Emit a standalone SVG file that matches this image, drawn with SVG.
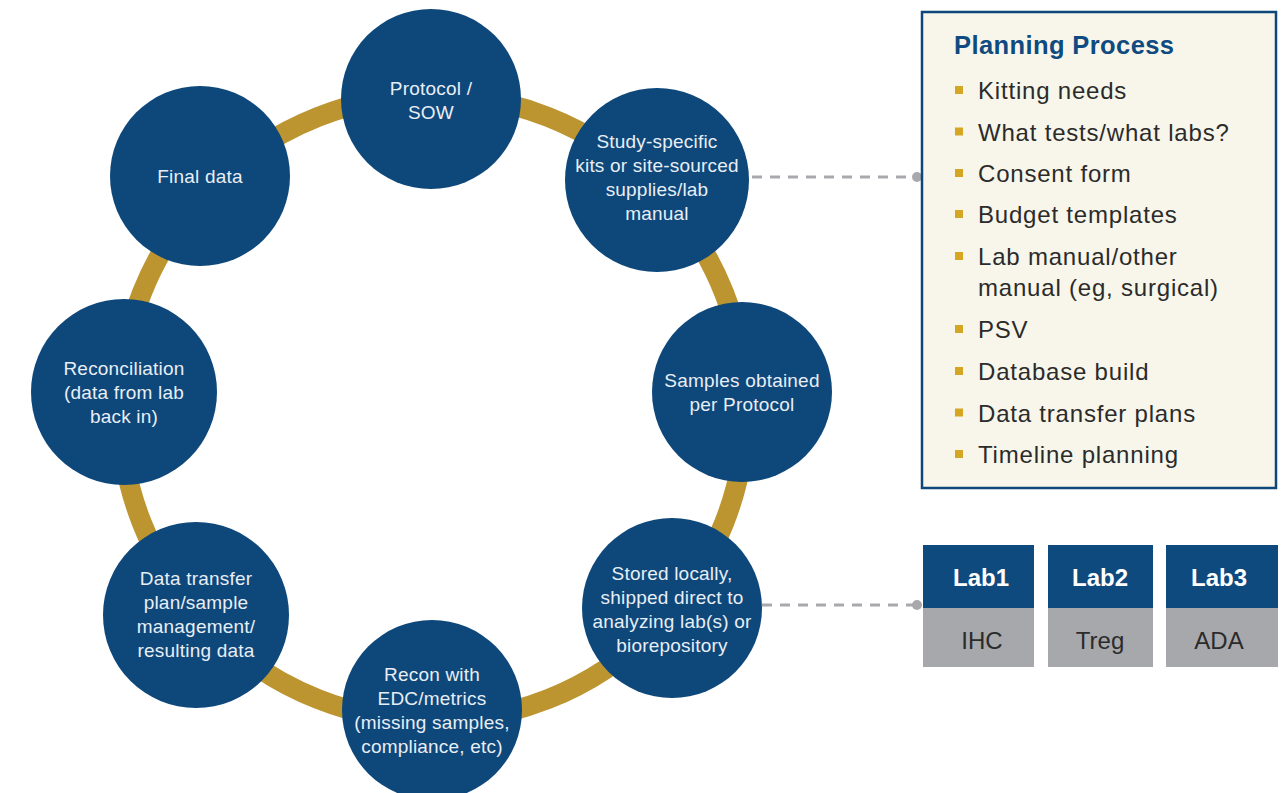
<svg xmlns="http://www.w3.org/2000/svg" width="1284" height="793" viewBox="0 0 1284 793">
<style>
.node{fill:#0E477A}
.nt{font-family:"Liberation Sans",Arial,sans-serif;font-size:19px;fill:#E8EEF5;text-anchor:middle;letter-spacing:0.2px}
.ring{fill:none;stroke:#BC9530;stroke-width:20}
.conn{stroke:#A9A9AD;stroke-width:3;stroke-dasharray:10 8;fill:none}
.dot{fill:#A9A9AD}
.bt{font-family:"Liberation Sans",Arial,sans-serif;font-size:24px;fill:#2B2B2B;letter-spacing:0.8px}
.bul{fill:#D4A621}
.lab{font-family:"Liberation Sans",Arial,sans-serif;font-size:24px;font-weight:bold;fill:#FFFFFF;text-anchor:middle}
.labv{font-family:"Liberation Sans",Arial,sans-serif;font-size:24px;fill:#2B2B2B;text-anchor:middle}
</style>
<rect width="1284" height="793" fill="#FFFFFF"/>
<circle class="ring" cx="433" cy="408" r="313"/>
<g id="connectors">
<line class="conn" x1="752" y1="177" x2="915" y2="177"/>
<circle class="dot" cx="917" cy="177" r="5"/>
<line class="conn" x1="762" y1="605" x2="915" y2="605"/>
<circle class="dot" cx="917" cy="605" r="5"/>
</g>
<g id="n-protocol">
<circle class="node" cx="431" cy="99" r="90"/>
<text class="nt" x="431" y="95">Protocol /</text>
<text class="nt" x="431" y="119">SOW</text>
</g>
<g id="n-study">
<circle class="node" cx="657" cy="180" r="92"/>
<text class="nt" x="657" y="148">Study-specific</text>
<text class="nt" x="657" y="172">kits or site-sourced</text>
<text class="nt" x="657" y="196">supplies/lab</text>
<text class="nt" x="657" y="220">manual</text>
</g>
<g id="n-samples">
<circle class="node" cx="742" cy="392" r="90"/>
<text class="nt" x="742" y="387">Samples obtained</text>
<text class="nt" x="742" y="411">per Protocol</text>
</g>
<g id="n-stored">
<circle class="node" cx="672" cy="608" r="90"/>
<text class="nt" x="672" y="580">Stored locally,</text>
<text class="nt" x="672" y="604">shipped direct to</text>
<text class="nt" x="672" y="628">analyzing lab(s) or</text>
<text class="nt" x="672" y="652">biorepository</text>
</g>
<g id="n-recon-edc">
<circle class="node" cx="432" cy="710" r="90"/>
<text class="nt" x="432" y="681">Recon with</text>
<text class="nt" x="432" y="705">EDC/metrics</text>
<text class="nt" x="432" y="729">(missing samples,</text>
<text class="nt" x="432" y="753">compliance, etc)</text>
</g>
<g id="n-datatransfer">
<circle class="node" cx="196" cy="615" r="93"/>
<text class="nt" x="196" y="585">Data transfer</text>
<text class="nt" x="196" y="609">plan/sample</text>
<text class="nt" x="196" y="633">management/</text>
<text class="nt" x="196" y="657">resulting data</text>
</g>
<g id="n-reconciliation">
<circle class="node" cx="124" cy="392" r="93"/>
<text class="nt" x="124" y="375">Reconciliation</text>
<text class="nt" x="124" y="399">(data from lab</text>
<text class="nt" x="124" y="423">back in)</text>
</g>
<g id="n-final">
<circle class="node" cx="200" cy="176" r="90"/>
<text class="nt" x="200" y="183">Final data</text>
</g>
<g id="planning">
<rect x="922" y="12" width="354" height="476" fill="#F8F6EA" stroke="#0E477A" stroke-width="2.5"/>
<text x="954" y="54" font-family="'Liberation Sans',Arial,sans-serif" font-size="25.5" font-weight="bold" fill="#0F4A80" letter-spacing="0.4">Planning Process</text>
<rect class="bul" x="955" y="86" width="8" height="8"/>
<text class="bt" x="978" y="99">Kitting needs</text>
<rect class="bul" x="955" y="127.5" width="8" height="8"/>
<text class="bt" x="978" y="140.5">What tests/what labs?</text>
<rect class="bul" x="955" y="169" width="8" height="8"/>
<text class="bt" x="978" y="182">Consent form</text>
<rect class="bul" x="955" y="210" width="8" height="8"/>
<text class="bt" x="978" y="223">Budget templates</text>
<rect class="bul" x="955" y="252" width="8" height="8"/>
<text class="bt" x="978" y="265">Lab manual/other</text>
<text class="bt" x="978" y="296">manual (eg, surgical)</text>
<rect class="bul" x="955" y="325" width="8" height="8"/>
<text class="bt" x="978" y="338">PSV</text>
<rect class="bul" x="955" y="367" width="8" height="8"/>
<text class="bt" x="978" y="380">Database build</text>
<rect class="bul" x="955" y="408.5" width="8" height="8"/>
<text class="bt" x="978" y="421.5">Data transfer plans</text>
<rect class="bul" x="955" y="450" width="8" height="8"/>
<text class="bt" x="978" y="463">Timeline planning</text>
</g>
<g id="lab1">
<rect x="923" y="545" width="111" height="63" fill="#0F4A7F"/>
<rect x="923" y="608" width="111" height="59" fill="#A7A8AB"/>
<text class="lab" x="981" y="586">Lab1</text>
<text class="labv" x="982" y="649">IHC</text>
</g>
<g id="lab2">
<rect x="1048" y="545" width="105" height="63" fill="#0F4A7F"/>
<rect x="1048" y="608" width="105" height="59" fill="#A7A8AB"/>
<text class="lab" x="1100" y="586">Lab2</text>
<text class="labv" x="1100" y="649">Treg</text>
</g>
<g id="lab3">
<rect x="1166" y="545" width="112" height="63" fill="#0F4A7F"/>
<rect x="1166" y="608" width="112" height="59" fill="#A7A8AB"/>
<text class="lab" x="1219" y="586">Lab3</text>
<text class="labv" x="1219" y="649">ADA</text>
</g>
</svg>
